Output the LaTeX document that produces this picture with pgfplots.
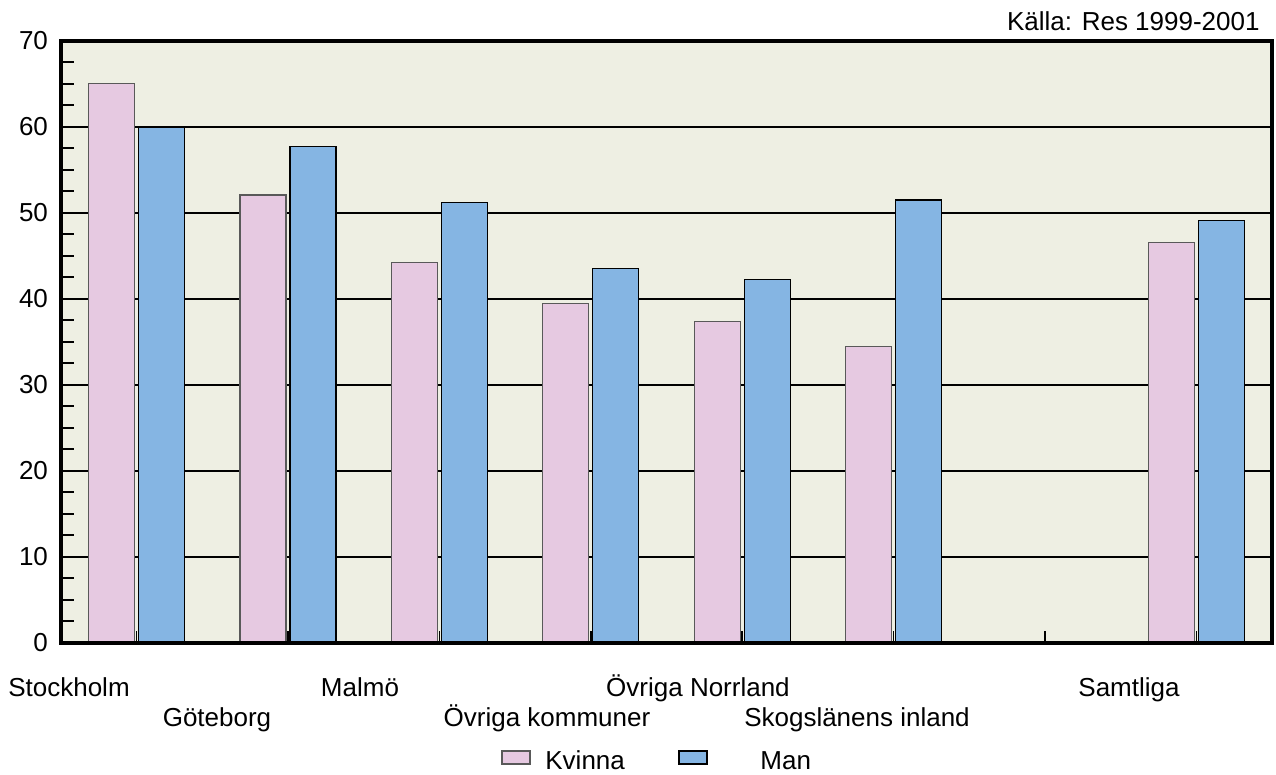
\documentclass[border=0pt]{standalone}
\usepackage{fontspec}
\setmainfont{Liberation Sans}
\usepackage{pgfplots}
\pgfplotsset{compat=1.18}
\usepackage{pgfplotstable}

\definecolor{plotbg}{HTML}{EEEFE3}
\definecolor{kvinna}{HTML}{E6C9E1}
\definecolor{man}{HTML}{85B5E3}

% slot 6 is left empty, as in the original
\pgfplotstableread{
x  kvinna  man
0  65.1    60.0
1  52.1    57.7
2  44.2    51.2
3  39.5    43.5
4  37.4    42.3
5  34.5    51.5
7  46.6    49.1
}\resdata

\begin{document}
\fontsize{13}{15.6}\selectfont
\begin{tikzpicture}
\useasboundingbox (-30.5pt,-66pt) rectangle (607.5pt,321.5pt);
\begin{axis}[
    at={(0,0)}, anchor=south west,
    scale only axis,
    width=605.5pt, height=301pt,
    xmin=-0.5, xmax=7.5,
    ymin=0, ymax=70,
    xtick={0,...,7},
    xticklabels={},
    ytick={0,10,...,70},
    minor y tick num=3,
    tick pos=left,
    tick align=inside,
    major tick length=9pt,
    minor tick length=6.5pt,
    xtick style={black, line width=0.7pt, /pgfplots/major tick length=6pt},
    ytick style={black, line width=1pt},
    minor tick style={black, line width=1pt},
    ymajorgrids,
    major grid style={black, line width=1pt},
    axis line style={line width=2.25pt},
    axis background/.style={fill=plotbg},
    /pgf/number format/assume math mode=true,
    ticklabel style={font=\fontsize{13}{15.6}\selectfont},
    yticklabel style={xshift=-2pt},
]
\addplot[ybar, bar width=23pt, bar shift=-12.5pt, fill=kvinna, draw=black!65, line width=0.6pt]
    table[x=x, y=kvinna] {\resdata};
\addplot[ybar, bar width=23pt, bar shift=12.5pt, fill=man, draw=black, line width=0.6pt]
    table[x=x, y=man] {\resdata};
\draw[line width=2.25pt] (rel axis cs:0,0) rectangle (rel axis cs:1,1);
\end{axis}

% category labels, staggered in two rows
\node[anchor=base] at (4pt,-27pt) {Stockholm};
\node[anchor=base] at (78pt,-42pt) {Göteborg};
\node[anchor=base] at (149.5pt,-27pt) {Malmö};
\node[anchor=base] at (243pt,-42pt) {Övriga kommuner};
\node[anchor=base] at (318.5pt,-27pt) {Övriga Norrland};
\node[anchor=base] at (398pt,-42pt) {Skogslänens inland};
\node[anchor=base] at (534pt,-27pt) {Samtliga};

% source note
\node[anchor=base east, inner sep=0pt] at (599.5pt,306pt) {Källa: Res 1999-2001};

% legend
\draw[fill=kvinna, draw=black!65, line width=0.6pt] (220.5pt,-60.5pt) rectangle (234.5pt,-54pt);
\node[anchor=base west, inner sep=0pt] at (242pt,-63.5pt) {Kvinna};
\draw[fill=man, draw=black, line width=0.6pt] (309pt,-60.5pt) rectangle (323pt,-54pt);
\node[anchor=base west, inner sep=0pt] at (349.5pt,-63.5pt) {Man};
\end{tikzpicture}
\end{document}
